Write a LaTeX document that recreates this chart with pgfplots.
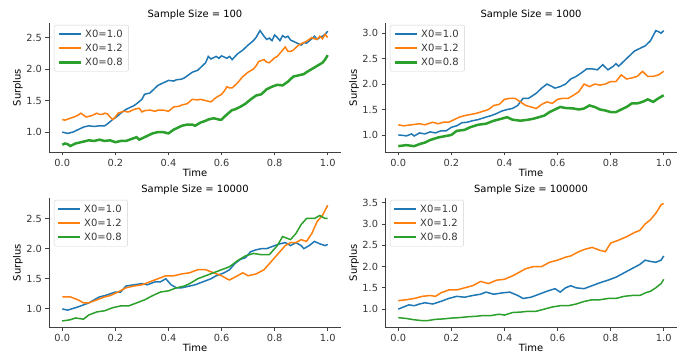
\documentclass[border=0pt]{standalone}
\usepackage{pgfplots}
\pgfplotsset{compat=1.18}
\usepackage{fontspec}
\setmainfont{DejaVu Sans}
\definecolor{tabblue}{HTML}{1F77B4}
\definecolor{taborange}{HTML}{FF7F0E}
\definecolor{tabgreen}{HTML}{2CA02C}
\definecolor{txt}{gray}{0.22}
\definecolor{spine}{gray}{0.25}
\pgfplotsset{
  panel/.style={
    scale only axis, width=292bp, height=129bp,
    anchor=south west,
    xmin=-0.05, xmax=1.05,
    axis x line*=bottom, axis y line*=left,
    axis line style={spine, line width=0.9bp},
    tick align=outside, major tick length=3.5bp,
    every tick/.style={spine, line width=0.9bp},
    xtick={0,0.2,0.4,0.6,0.8,1.0},
    /pgf/number format/assume math mode=true,
    xticklabel style={/pgf/number format/.cd, fixed, fixed zerofill, precision=1},
    yticklabel style={/pgf/number format/.cd, fixed, fixed zerofill, precision=1},
    tick label style={font=\fontsize{9.8bp}{10bp}\selectfont, text=txt},
    label style={font=\fontsize{9.6bp}{10bp}\selectfont, text=txt},
    title style={font=\fontsize{12.5bp}{13bp}\selectfont, text=txt},
    every axis title/.style={at={(rel axis cs:0.5,1)}, yshift=8bp, anchor=center},
    every axis x label/.style={at={(rel axis cs:0.5,0)}, yshift=-21bp, anchor=center},
    every axis y label/.style={at={(rel axis cs:0,0.5)}, xshift=-31bp, rotate=90, anchor=center},
    xlabel={Time}, ylabel={Surplus},
    legend cell align=left,
    legend style={at={(rel axis cs:0.017,0.985)}, anchor=north west,
      draw=gray!35, rounded corners=2bp, fill=white, fill opacity=0.8, text opacity=1,
      font=\fontsize{10bp}{11bp}\selectfont, text=txt,
      inner xsep=3bp, inner ysep=2.5bp, row sep=1.2bp,
      nodes={inner xsep=3bp}},
  },
}
\newcommand{\LB}{\draw[tabblue, line width=2bp] (0bp,0bp) -- (22bp,0bp);}
\newcommand{\LO}{\draw[taborange, line width=2bp] (0bp,0bp) -- (22bp,0bp);}
\newcommand{\LG}{\draw[tabgreen, line width=2bp] (0bp,0bp) -- (22bp,0bp);}
\newcommand{\LGT}{\draw[tabgreen, line width=3bp] (0bp,0bp) -- (22bp,0bp);}
\pgfplotsset{
  sb/.style={tabblue, line width=1.5bp, legend image code/.code={\LB}},
  so/.style={taborange, line width=1.5bp, legend image code/.code={\LO}},
  sg/.style={tabgreen, line width=1.5bp, legend image code/.code={\LG}},
  sgt/.style={tabgreen, line width=2.5bp, legend image code/.code={\LGT}},
}
\begin{document}
\begin{tikzpicture}[x=1bp,y=1bp]
\path[use as bounding box] (0,0) rectangle (683,354);
% ---------------- top left
\begin{axis}[panel, at={(49bp,202bp)}, ymin=0.685, ymax=2.73, ytick={1.0,1.5,2.0,2.5},
  title={Sample Size = 100}]
\addplot[sb] coordinates {(0,1.0)(0.02,0.98)(0.04,1.0)(0.06,1.04)(0.08,1.08)(0.1,1.1)(0.12,1.09)(0.14,1.1)(0.16,1.1)(0.17,1.13)(0.19,1.2)(0.21,1.26)(0.22,1.3)(0.24,1.36)(0.25,1.38)(0.27,1.42)(0.28,1.45)(0.3,1.52)(0.31,1.6)(0.33,1.62)(0.34,1.66)(0.36,1.74)(0.38,1.78)(0.4,1.82)(0.42,1.81)(0.43,1.83)(0.45,1.84)(0.46,1.86)(0.48,1.92)(0.49,1.95)(0.51,1.98)(0.52,2.02)(0.54,2.1)(0.55,2.2)(0.56,2.16)(0.58,2.2)(0.59,2.17)(0.6,2.21)(0.62,2.17)(0.63,2.2)(0.64,2.15)(0.66,2.24)(0.68,2.3)(0.7,2.38)(0.72,2.45)(0.73,2.5)(0.745,2.61)(0.76,2.52)(0.77,2.47)(0.78,2.49)(0.79,2.45)(0.8,2.54)(0.81,2.5)(0.82,2.45)(0.83,2.53)(0.84,2.5)(0.85,2.52)(0.86,2.46)(0.88,2.42)(0.9,2.38)(0.91,2.42)(0.92,2.41)(0.94,2.48)(0.95,2.52)(0.96,2.47)(0.97,2.5)(0.98,2.52)(0.99,2.55)(1.0,2.6)};
\addlegendentry{X0=1.0}
\addplot[so] coordinates {(0,1.2)(0.01,1.19)(0.03,1.22)(0.05,1.25)(0.06,1.27)(0.07,1.3)(0.08,1.27)(0.09,1.24)(0.11,1.26)(0.13,1.3)(0.14,1.28)(0.15,1.28)(0.16,1.3)(0.17,1.29)(0.18,1.24)(0.19,1.2)(0.2,1.24)(0.21,1.3)(0.23,1.33)(0.25,1.32)(0.27,1.36)(0.29,1.38)(0.3,1.32)(0.31,1.34)(0.33,1.35)(0.35,1.33)(0.36,1.35)(0.38,1.35)(0.4,1.33)(0.42,1.4)(0.44,1.41)(0.45,1.43)(0.47,1.45)(0.49,1.52)(0.51,1.51)(0.52,1.52)(0.54,1.5)(0.56,1.48)(0.58,1.55)(0.6,1.6)(0.61,1.65)(0.62,1.72)(0.63,1.7)(0.64,1.7)(0.66,1.78)(0.68,1.88)(0.7,1.95)(0.72,2.0)(0.73,2.05)(0.74,2.12)(0.76,2.15)(0.77,2.11)(0.78,2.1)(0.8,2.18)(0.81,2.2)(0.82,2.25)(0.83,2.3)(0.84,2.35)(0.85,2.28)(0.86,2.28)(0.87,2.3)(0.89,2.38)(0.9,2.4)(0.92,2.44)(0.94,2.5)(0.95,2.48)(0.96,2.47)(0.97,2.52)(0.98,2.48)(0.99,2.55)(1.0,2.5)};
\addlegendentry{X0=1.2}
\addplot[sgt] coordinates {(0,0.8)(0.01,0.82)(0.02,0.81)(0.03,0.78)(0.05,0.82)(0.07,0.84)(0.08,0.85)(0.1,0.87)(0.12,0.86)(0.14,0.88)(0.16,0.86)(0.18,0.87)(0.2,0.84)(0.22,0.86)(0.24,0.86)(0.26,0.89)(0.28,0.92)(0.29,0.88)(0.31,0.92)(0.33,0.96)(0.34,0.98)(0.36,1.0)(0.38,1.0)(0.4,0.98)(0.42,1.04)(0.44,1.08)(0.45,1.1)(0.47,1.12)(0.49,1.12)(0.5,1.1)(0.52,1.15)(0.54,1.18)(0.55,1.2)(0.57,1.22)(0.59,1.2)(0.6,1.2)(0.62,1.28)(0.64,1.35)(0.65,1.36)(0.67,1.4)(0.69,1.45)(0.71,1.52)(0.73,1.58)(0.75,1.6)(0.77,1.68)(0.79,1.72)(0.81,1.75)(0.83,1.74)(0.85,1.8)(0.87,1.88)(0.89,1.9)(0.91,1.92)(0.92,1.95)(0.94,2.0)(0.96,2.05)(0.98,2.1)(0.99,2.15)(1.0,2.22)};
\addlegendentry{X0=0.8}
\end{axis}
% ---------------- top right
\begin{axis}[panel, at={(385bp,202bp)}, ymin=0.665, ymax=3.2, ytick={1.0,1.5,2.0,2.5,3.0},
  title={Sample Size = 1000}]
\addplot[sb] coordinates {(0,1.0)(0.02,0.99)(0.03,0.98)(0.05,1.02)(0.06,0.98)(0.08,1.04)(0.1,1.02)(0.12,1.06)(0.14,1.04)(0.16,1.08)(0.18,1.08)(0.2,1.15)(0.22,1.18)(0.24,1.24)(0.26,1.25)(0.28,1.28)(0.3,1.3)(0.33,1.35)(0.35,1.38)(0.37,1.42)(0.39,1.47)(0.41,1.5)(0.43,1.52)(0.45,1.58)(0.47,1.72)(0.49,1.72)(0.5,1.75)(0.52,1.82)(0.54,1.92)(0.56,2.0)(0.58,1.95)(0.59,1.92)(0.61,1.95)(0.63,2.0)(0.65,2.1)(0.67,2.15)(0.69,2.22)(0.71,2.3)(0.73,2.3)(0.75,2.28)(0.77,2.38)(0.79,2.28)(0.81,2.35)(0.82,2.4)(0.83,2.35)(0.85,2.45)(0.87,2.55)(0.89,2.65)(0.91,2.7)(0.93,2.75)(0.95,2.85)(0.97,3.05)(0.98,3.03)(0.99,3.0)(1.0,3.05)};
\addlegendentry{X0=1.0}
\addplot[so] coordinates {(0,1.2)(0.02,1.18)(0.05,1.2)(0.08,1.22)(0.1,1.2)(0.13,1.25)(0.15,1.22)(0.17,1.25)(0.19,1.25)(0.21,1.3)(0.23,1.35)(0.25,1.38)(0.27,1.4)(0.29,1.42)(0.31,1.45)(0.34,1.5)(0.36,1.58)(0.38,1.6)(0.4,1.7)(0.42,1.72)(0.44,1.72)(0.46,1.65)(0.48,1.58)(0.5,1.55)(0.52,1.52)(0.54,1.6)(0.56,1.65)(0.58,1.62)(0.6,1.7)(0.62,1.72)(0.64,1.72)(0.66,1.78)(0.68,1.85)(0.7,2.0)(0.72,1.95)(0.74,2.0)(0.76,1.98)(0.78,2.0)(0.8,2.05)(0.82,2.05)(0.84,2.18)(0.86,2.1)(0.88,2.12)(0.9,2.15)(0.92,2.25)(0.94,2.15)(0.96,2.15)(0.98,2.18)(1.0,2.25)};
\addlegendentry{X0=1.2}
\addplot[sgt] coordinates {(0,0.78)(0.03,0.8)(0.06,0.78)(0.08,0.82)(0.1,0.85)(0.12,0.9)(0.15,0.95)(0.18,0.98)(0.2,1.0)(0.22,1.08)(0.25,1.1)(0.27,1.15)(0.3,1.2)(0.33,1.22)(0.36,1.28)(0.39,1.32)(0.41,1.35)(0.43,1.3)(0.46,1.28)(0.49,1.3)(0.51,1.32)(0.53,1.35)(0.55,1.38)(0.57,1.45)(0.59,1.5)(0.61,1.55)(0.63,1.53)(0.66,1.52)(0.68,1.5)(0.7,1.52)(0.72,1.58)(0.74,1.55)(0.76,1.5)(0.78,1.48)(0.8,1.45)(0.82,1.45)(0.84,1.5)(0.86,1.55)(0.88,1.62)(0.9,1.62)(0.92,1.65)(0.94,1.7)(0.96,1.65)(0.98,1.72)(1.0,1.78)};
\addlegendentry{X0=0.8}
\end{axis}
% ---------------- bottom left
\begin{axis}[panel, at={(49bp,27bp)}, ymin=0.70, ymax=2.84, ytick={1.0,1.5,2.0,2.5},
  title={Sample Size = 10000}]
\addplot[sb] coordinates {(0,1.0)(0.02,0.98)(0.05,1.02)(0.07,1.05)(0.1,1.1)(0.12,1.15)(0.14,1.2)(0.16,1.22)(0.18,1.25)(0.2,1.28)(0.22,1.28)(0.24,1.38)(0.27,1.4)(0.3,1.42)(0.32,1.4)(0.35,1.45)(0.37,1.45)(0.39,1.5)(0.41,1.4)(0.43,1.35)(0.45,1.35)(0.48,1.38)(0.5,1.4)(0.53,1.45)(0.56,1.5)(0.58,1.55)(0.61,1.6)(0.63,1.65)(0.65,1.75)(0.67,1.82)(0.69,1.85)(0.71,1.95)(0.73,1.98)(0.75,2.0)(0.77,2.0)(0.8,2.05)(0.82,2.08)(0.84,2.1)(0.86,2.05)(0.88,2.1)(0.9,2.05)(0.91,2.0)(0.93,2.05)(0.95,2.12)(0.97,2.08)(0.99,2.05)(1.0,2.07)};
\addlegendentry{X0=1.0}
\addplot[so] coordinates {(0,1.2)(0.03,1.2)(0.06,1.15)(0.08,1.1)(0.1,1.1)(0.13,1.15)(0.16,1.2)(0.18,1.22)(0.21,1.28)(0.24,1.35)(0.27,1.38)(0.3,1.4)(0.33,1.45)(0.36,1.5)(0.39,1.55)(0.42,1.55)(0.45,1.58)(0.48,1.6)(0.51,1.65)(0.54,1.65)(0.57,1.6)(0.6,1.55)(0.62,1.5)(0.63,1.48)(0.66,1.55)(0.68,1.6)(0.7,1.55)(0.73,1.58)(0.76,1.65)(0.78,1.75)(0.8,1.85)(0.82,1.95)(0.84,2.05)(0.86,2.1)(0.88,2.1)(0.9,2.15)(0.92,2.12)(0.94,2.25)(0.96,2.45)(0.98,2.55)(1.0,2.72)};
\addlegendentry{X0=1.2}
\addplot[sg] coordinates {(0,0.8)(0.03,0.82)(0.05,0.85)(0.08,0.83)(0.1,0.9)(0.13,0.95)(0.16,0.97)(0.19,1.02)(0.22,1.05)(0.25,1.05)(0.28,1.1)(0.31,1.15)(0.34,1.22)(0.37,1.28)(0.4,1.3)(0.43,1.35)(0.46,1.38)(0.48,1.42)(0.51,1.5)(0.54,1.55)(0.57,1.6)(0.6,1.65)(0.63,1.7)(0.66,1.8)(0.69,1.88)(0.72,1.92)(0.75,1.9)(0.78,1.9)(0.81,2.05)(0.83,2.2)(0.86,2.15)(0.88,2.25)(0.9,2.4)(0.92,2.5)(0.95,2.5)(0.97,2.55)(0.99,2.5)(1.0,2.5)};
\addlegendentry{X0=0.8}
\end{axis}
% ---------------- bottom right
\begin{axis}[panel, at={(385bp,27bp)}, ymin=0.58, ymax=3.61, ytick={1.0,1.5,2.0,2.5,3.0,3.5},
  title={Sample Size = 100000}]
\addplot[sb] coordinates {(0,1.0)(0.02,1.05)(0.04,1.1)(0.06,1.08)(0.08,1.12)(0.1,1.15)(0.13,1.12)(0.16,1.18)(0.19,1.25)(0.22,1.3)(0.25,1.28)(0.28,1.32)(0.31,1.35)(0.33,1.4)(0.36,1.35)(0.39,1.38)(0.42,1.4)(0.45,1.32)(0.47,1.25)(0.5,1.28)(0.53,1.35)(0.56,1.42)(0.59,1.48)(0.61,1.4)(0.63,1.5)(0.65,1.55)(0.67,1.5)(0.7,1.48)(0.73,1.55)(0.76,1.62)(0.79,1.68)(0.82,1.75)(0.85,1.85)(0.88,1.95)(0.91,2.05)(0.93,2.15)(0.95,2.12)(0.97,2.1)(0.99,2.15)(1.0,2.25)};
\addlegendentry{X0=1.0}
\addplot[so] coordinates {(0,1.2)(0.03,1.22)(0.06,1.25)(0.09,1.3)(0.12,1.32)(0.14,1.3)(0.16,1.38)(0.19,1.45)(0.22,1.45)(0.25,1.5)(0.28,1.55)(0.31,1.65)(0.34,1.6)(0.37,1.68)(0.4,1.7)(0.43,1.78)(0.46,1.88)(0.48,1.95)(0.51,2.0)(0.54,2.0)(0.57,2.1)(0.6,2.15)(0.63,2.22)(0.65,2.25)(0.68,2.35)(0.7,2.4)(0.73,2.45)(0.76,2.38)(0.78,2.35)(0.8,2.55)(0.83,2.62)(0.86,2.7)(0.89,2.8)(0.91,2.85)(0.93,3.0)(0.95,3.1)(0.97,3.25)(0.99,3.45)(1.0,3.48)};
\addlegendentry{X0=1.2}
\addplot[sg] coordinates {(0,0.8)(0.03,0.78)(0.06,0.75)(0.09,0.73)(0.11,0.73)(0.14,0.76)(0.17,0.77)(0.2,0.79)(0.23,0.8)(0.26,0.82)(0.29,0.83)(0.32,0.85)(0.35,0.85)(0.38,0.88)(0.4,0.86)(0.43,0.92)(0.46,0.93)(0.49,0.95)(0.52,0.95)(0.55,1.0)(0.58,1.05)(0.61,1.08)(0.64,1.08)(0.67,1.12)(0.7,1.18)(0.73,1.22)(0.76,1.22)(0.79,1.25)(0.82,1.25)(0.85,1.3)(0.88,1.32)(0.91,1.32)(0.93,1.38)(0.95,1.42)(0.97,1.5)(0.99,1.6)(1.0,1.7)};
\addlegendentry{X0=0.8}
\end{axis}
\end{tikzpicture}
\end{document}
